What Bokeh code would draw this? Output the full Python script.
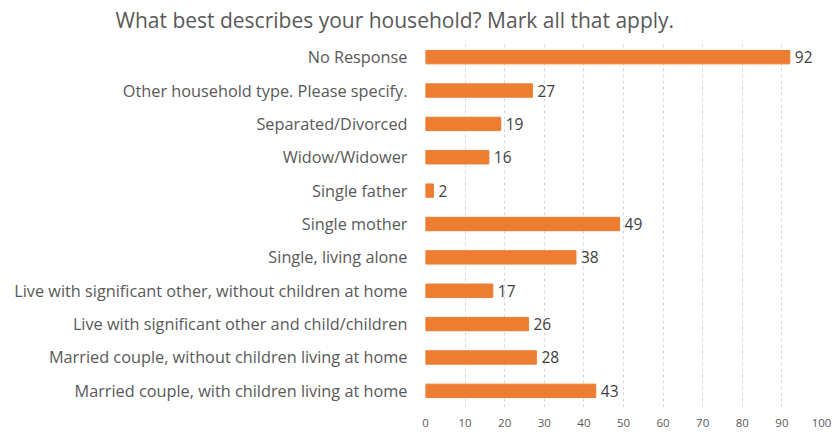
from bokeh.plotting import figure
from bokeh.models import ColumnDataSource, FactorRange, Range1d, LabelSet, Title
from bokeh.core.properties import value
from bokeh.embed import file_html
from bokeh.resources import INLINE

categories = [
    "Married couple, with children living at home",
    "Married couple, without children living at home",
    "Live with significant other and child/children",
    "Live with significant other, without children at home",
    "Single, living alone",
    "Single mother",
    "Single father",
    "Widow/Widower",
    "Separated/Divorced",
    "Other household type. Please specify.",
    "No Response",
]
counts = [43, 28, 26, 17, 38, 49, 2, 16, 19, 27, 92]
x_ticks = list(range(0, 101, 10))
title_text = "What best describes your household? Mark all that apply."

src = ColumnDataSource(dict(cat=categories, val=counts, lbl=[str(v) for v in counts]))

FONT = "Open Sans"

p = figure(width=836, height=437, output_backend="svg", toolbar_location=None,
           y_range=FactorRange(factors=categories, range_padding=0),
           x_range=Range1d(0, 100),
           min_border_left=425, min_border_right=15, min_border_bottom=30, min_border_top=40)
p.title = Title(text=title_text, align="left", offset=-310, text_font=FONT,
                text_font_size="21px", text_font_style="normal", text_color="#595959",
                standoff=10, vertical_align="top")
p.outline_line_color = None
p.hbar(y="cat", right="val", left=0, height=0.4, source=src, color="#ED7D31")
p.add_layout(LabelSet(x="val", y="cat", text="lbl", source=src, x_offset=5, y_offset=0,
                      text_baseline="middle", text_font=value(FONT), text_font_size="15.5px",
                      text_color="#404040"))

p.xaxis.ticker = x_ticks
p.xaxis.axis_line_color = None
p.xaxis.major_tick_line_color = None
p.xaxis.minor_tick_line_color = None
p.xaxis.major_tick_out = 0
p.xaxis.major_tick_in = 0
p.xaxis.major_label_text_font = FONT
p.xaxis.major_label_text_font_size = "11.5px"
p.xaxis.major_label_text_color = "#595959"
p.xaxis.major_label_standoff = 11

p.yaxis.axis_line_color = None
p.yaxis.major_tick_line_color = None
p.yaxis.minor_tick_line_color = None
p.yaxis.major_tick_out = 0
p.yaxis.major_tick_in = 0
p.yaxis.major_label_text_font = FONT
p.yaxis.major_label_text_font_size = "16.3px"
p.yaxis.major_label_text_color = "#595959"
p.yaxis.major_label_standoff = 18

p.ygrid.grid_line_color = None
p.xgrid.grid_line_color = "#d9d9d9"
p.xgrid.grid_line_dash = "3 3"

open("out.html", "w").write(file_html(p, INLINE))
